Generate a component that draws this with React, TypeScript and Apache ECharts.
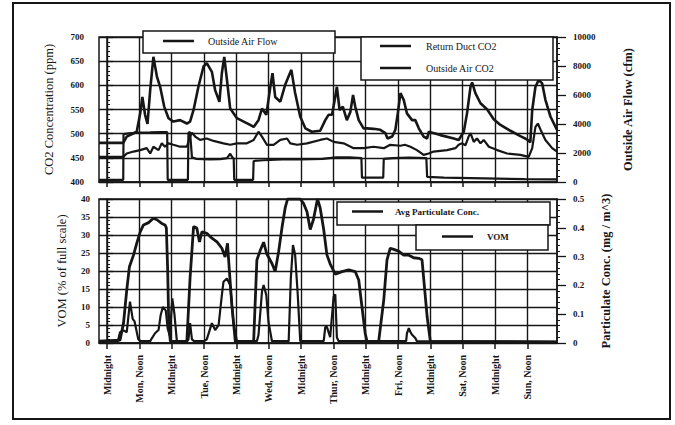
import React, { useEffect, useRef } from "react";
import * as echarts from "echarts";

// ---- axis ticks (hours from Monday midnight) ----
const hourTicks = [0, 12, 24, 36, 48, 60, 72, 84, 96, 108, 120, 132, 144, 156];
const tickLabels = [
  "Midnight", "Mon, Noon", "Midnight", "Tue, Noon", "Midnight", "Wed, Noon", "Midnight",
  "Thur, Noon", "Midnight", "Fri, Noon", "Midnight", "Sat, Noon", "Midnight", "Sun, Noon",
];

// ---- Return Duct CO2 (ppm) ----
const rdHours = [-3, 6, 7.3, 11, 12.3, 13.1, 14.1, 15, 16, 17.2, 18.5, 19.7, 21.2, 22.8, 24.6, 27.1, 29.6, 30.8, 32.1, 33.9, 35.8, 37, 38.9, 40.1, 41.7, 42.6, 43.5, 44.5, 45.7, 48.2, 50.7, 53.1, 54.4, 56.2, 57.5, 59.1, 60.6, 61.4, 62.4, 64.3, 66.1, 68.4, 69.8, 71.7, 73.6, 76, 79.1, 81, 82.2, 83.5, 84.5, 85.3, 86.3, 87.5, 89, 90.3, 91.3, 92.1, 93.4, 95.2, 96.5, 98.9, 101.4, 103.3, 104.1, 105.8, 107, 107.9, 108.9, 110.1, 111.3, 113.2, 114.4, 115.7, 117.5, 118.8, 119.4, 123.7, 128.7, 130.5, 132.4, 133.6, 134.9, 135.5, 136.7, 138.6, 141.1, 143.5, 146, 149.7, 153.4, 155.9, 157.1, 157.8, 159, 160.2, 161.5, 162.7, 164.6, 167];
const rdCO2 = [481, 481, 494, 504, 542, 576, 539, 520, 590, 659, 618, 597, 556, 532, 525, 528, 521, 525, 549, 597, 639, 646, 628, 590, 566, 625, 659, 611, 552, 532, 525, 518, 514, 528, 552, 539, 597, 625, 576, 566, 601, 632, 584, 535, 511, 504, 506, 528, 539, 539, 570, 597, 549, 556, 528, 545, 580, 556, 528, 511, 511, 510, 508, 501, 490, 494, 508, 542, 584, 570, 542, 528, 528, 511, 494, 490, 504, 497, 490, 487, 504, 542, 597, 606, 584, 563, 550, 530, 518, 506, 495, 488, 482, 549, 597, 611, 604, 570, 535, 508];

// ---- Outside Air CO2 (ppm) ----
const oaHours = [-3, 6, 7.3, 9.8, 12.3, 14.7, 16, 17.2, 19.1, 20.3, 21.5, 22.8, 24.6, 27.1, 29.6, 30.8, 31.5, 32.7, 34.5, 37, 39.5, 43.2, 45.7, 48.2, 51.9, 54.4, 56.2, 57.5, 59.3, 61.8, 64.3, 66.8, 68, 70.5, 74.2, 79.1, 81.6, 84.1, 87.8, 91.5, 95.2, 98.9, 102.7, 105.1, 108.9, 110.5, 112.6, 115, 117.5, 119.4, 121.2, 126.2, 129.3, 130.5, 131.8, 133, 134.2, 134.9, 136.1, 137.3, 138.6, 139.8, 141.7, 144.8, 148.5, 153.4, 156.5, 157.8, 159, 159.9, 160.9, 162.7, 165.2, 167];
const oaCO2 = [452, 452, 459, 463, 466, 470, 459, 473, 466, 480, 473, 480, 477, 473, 473, 494, 502, 494, 487, 490, 485, 480, 477, 480, 480, 487, 504, 494, 477, 477, 487, 490, 480, 477, 480, 487, 490, 483, 480, 470, 470, 473, 470, 477, 475, 477, 473, 466, 456, 459, 463, 466, 470, 477, 480, 476, 494, 501, 483, 490, 480, 487, 473, 466, 459, 456, 452, 470, 514, 521, 508, 487, 470, 463];

// ---- Outside Air Flow (cfm) ----
const flowHours = [-3, 6, 6.1, 8, 12, 16, 20, 22.3, 22.5, 30, 30.2, 30.8, 31.5, 33, 38, 42, 44.5, 45.7, 46.5, 47, 47.2, 54.2, 54.4, 58, 65, 72, 80, 85, 90, 94.4, 94.6, 102.5, 102.7, 106, 112, 118.5, 118.8, 125, 140, 155, 167];
const flowCfm = [150, 150, 3300, 3350, 3400, 3420, 3450, 3450, 150, 150, 3400, 3450, 1700, 1600, 1550, 1580, 1650, 1950, 1700, 1600, 150, 150, 1450, 1500, 1550, 1560, 1600, 1700, 1700, 1650, 300, 300, 1600, 1650, 1680, 1650, 350, 300, 250, 200, 180];

// ---- Avg Particulate Conc. (mg/m^3) ----
const pmHours = [-3, 4.8, 6.1, 7.3, 8.3, 9.8, 11, 12.3, 13.5, 15.4, 17.2, 18.5, 20.3, 21.5, 22, 22.5, 22.9, 23.5, 29.6, 30.8, 32.1, 33.3, 34.3, 35.2, 37, 38.9, 40.8, 42.6, 43.8, 44.7, 45.4, 46.3, 47.6, 54.4, 55.6, 56.8, 58.1, 59.3, 61.2, 62.4, 63.7, 64.9, 66.1, 67, 71.7, 72.9, 74.2, 75.4, 76.6, 78.1, 79.1, 80.4, 81.6, 82.8, 84.7, 87.2, 89.7, 92.1, 93.4, 94.6, 95.8, 96.5, 100.8, 102.7, 103.9, 105.1, 106.4, 108.2, 110.1, 112, 113.8, 115.7, 116.9, 117.8, 118.8, 120, 167];
const pmConc = [0.006, 0.01, 0.069, 0.184, 0.265, 0.305, 0.346, 0.386, 0.41, 0.418, 0.433, 0.428, 0.415, 0.41, 0.4, 0.25, 0.06, 0.006, 0.005, 0.225, 0.404, 0.399, 0.351, 0.386, 0.381, 0.364, 0.351, 0.329, 0.299, 0.346, 0.25, 0.133, 0.005, 0.005, 0.288, 0.32, 0.35, 0.309, 0.276, 0.248, 0.319, 0.399, 0.469, 0.5, 0.5, 0.485, 0.456, 0.394, 0.429, 0.5, 0.469, 0.394, 0.306, 0.275, 0.239, 0.248, 0.254, 0.248, 0.219, 0.126, 0.034, 0.005, 0.005, 0.15, 0.289, 0.329, 0.325, 0.319, 0.305, 0.305, 0.296, 0.294, 0.289, 0.195, 0.091, 0.005, 0.004];

// ---- VOM (% of full scale) ----
const vomHours = [-3, 4, 4.8, 6.1, 7.3, 8.5, 9.5, 10.2, 11.6, 12.5, 16, 16.6, 17.8, 19.1, 19.9, 20.7, 21.8, 22.5, 23.3, 24.2, 25, 25.9, 29.6, 30.2, 30.8, 31.5, 32.3, 36, 37, 38.9, 40.1, 41.4, 42.6, 43.2, 44.5, 45.7, 46.9, 48.2, 55.6, 56.2, 57.5, 58.1, 59.1, 59.9, 61.2, 67.4, 68.2, 69, 69.8, 70.7, 71.7, 80.4, 81, 81.6, 82.8, 84.1, 84.7, 85.3, 85.9, 111, 111.3, 112, 112.6, 113.2, 114.4, 115, 167];
const vomPct = [0.5, 0.5, 3, 3.5, 3, 11.5, 6.7, 6, 1, 0.5, 0.5, 1.3, 2.7, 3.6, 7.8, 10, 9, 4, 2, 12.4, 8, 0.5, 0.5, 1, 5.5, 1, 0.5, 0.5, 1, 5.5, 3.6, 5, 13.3, 17, 17.9, 16, 5.6, 0.5, 0.5, 2.2, 14.3, 16.1, 13.3, 5.9, 0.5, 0.5, 18, 27.2, 24.5, 14.3, 0.5, 0.5, 4.5, 4.5, 1.6, 12.9, 13.5, 1.6, 0.5, 0.5, 2.7, 4.1, 3, 2.3, 1.4, 0.5, 0.3];

const zip = (xs: number[], ys: number[]) => xs.map((x, i) => [x, ys[i]]);

const FONT = "Liberation Serif, Times New Roman, serif";
const INK = "#161616";

export default function App() {
  const ref = useRef<HTMLDivElement>(null);

  useEffect(() => {
    if (!ref.current) return;
    const chart = echarts.init(ref.current, undefined, { renderer: "svg" });

    const xBase = {
      type: "value" as const,
      min: -3,
      max: 167,
      axisLine: { show: true, lineStyle: { color: INK, width: 1.5 } },
      axisTick: { show: true, customValues: hourTicks, length: 5, lineStyle: { color: INK, width: 1.5 } },
      splitLine: { show: true, lineStyle: { color: INK, width: 1.4 } },
    };

    const yLeft = (gridIndex: number, min: number, max: number, interval: number, name: string, gap: number, margin: number) => ({
      type: "value" as const,
      gridIndex,
      position: "left" as const,
      min,
      max,
      interval,
      name,
      nameLocation: "middle" as const,
      nameGap: gap,
      nameTextStyle: { fontFamily: FONT, fontSize: 12.5, color: INK },
      axisLine: { show: true, lineStyle: { color: INK, width: 1.5 } },
      axisTick: { show: true, inside: true, length: 6, lineStyle: { color: INK, width: 1.3 } },
      minorTick: { show: true, splitNumber: 5, length: 3, lineStyle: { color: INK, width: 1 } },
      axisLabel: { fontFamily: FONT, fontSize: 9, fontWeight: "bold", color: INK, margin },
      splitLine: { show: true, lineStyle: { color: INK, width: 1.4 } },
    });

    const yRight = (gridIndex: number, min: number, max: number, interval: number, name: string, gap: number, fmt: (v: number) => string) => ({
      type: "value" as const,
      gridIndex,
      position: "right" as const,
      min,
      max,
      interval,
      name,
      nameLocation: "middle" as const,
      nameGap: gap,
      nameTextStyle: { fontFamily: FONT, fontSize: 12.5, fontWeight: "bold", color: INK },
      axisLine: { show: true, lineStyle: { color: INK, width: 1.5 } },
      axisTick: { show: true, length: 9, lineStyle: { color: INK, width: 1.3 } },
      minorTick: { show: true, splitNumber: 5, length: 3, lineStyle: { color: INK, width: 1 } },
      axisLabel: { fontFamily: FONT, fontSize: 9, fontWeight: "bold", color: INK, margin: 16, formatter: fmt },
      splitLine: { show: false },
    });

    const line = (name: string, xi: number, yi: number, data: number[][], width: number) => ({
      name,
      type: "line" as const,
      xAxisIndex: xi,
      yAxisIndex: yi,
      data,
      symbol: "none",
      lineStyle: { color: INK, width },
      itemStyle: { color: INK },
      z: 2,
    });

    const legendBase = {
      padding: 0,
      icon: "rect",
      itemWidth: 31,
      itemHeight: 2.5,
      selectedMode: false,
      z: 6,
      textStyle: { fontFamily: FONT, fontSize: 10, color: INK },
    };

    const boxStyle = { fill: "#ffffff", stroke: INK, lineWidth: 1.5 };

    chart.setOption({
      animation: false,
      backgroundColor: "#ffffff",
      grid: [
        { left: 99, top: 37, width: 458, height: 145, show: true, borderColor: INK, borderWidth: 1.5, backgroundColor: "transparent" },
        { left: 99, top: 199, width: 458, height: 144, show: true, borderColor: INK, borderWidth: 1.5, backgroundColor: "transparent" },
      ],
      xAxis: [
        { ...xBase, gridIndex: 0, axisLabel: { show: false, customValues: hourTicks } },
        {
          ...xBase,
          gridIndex: 1,
          axisTick: { ...xBase.axisTick, length: 6 },
          axisLabel: {
            show: true,
            customValues: hourTicks,
            rotate: 90,
            margin: 12,
            fontFamily: FONT,
            fontSize: 10,
            fontWeight: "bold",
            color: INK,
            formatter: (v: number) => tickLabels[Math.round(v / 12)] ?? "",
          },
        },
      ],
      yAxis: [
        yLeft(0, 400, 700, 50, "CO2 Concentration (ppm)", 44, 15),
        yRight(0, 0, 10000, 2000, "Outside Air Flow (cfm)", 64, (v: number) => String(v)),
        yLeft(1, 0, 40, 5, "VOM (% of full scale)", 31, 9),
        yRight(1, 0, 0.5, 0.1, "Particulate Conc. (mg / m^3)", 42, (v: number) => (v === 0 ? "0" : v.toFixed(1))),
      ],
      legend: [
        { ...legendBase, data: ["Outside Air Flow"], left: 163, top: 36, textStyle: { ...legendBase.textStyle, padding: [0, 0, 0, 9] } },
        { ...legendBase, data: ["Return Duct CO2"], left: 380, top: 41, textStyle: { ...legendBase.textStyle, padding: [0, 0, 0, 10] } },
        { ...legendBase, data: ["Outside Air CO2"], left: 380, top: 63, textStyle: { ...legendBase.textStyle, padding: [0, 0, 0, 10] } },
        { ...legendBase, data: ["Avg Particulate Conc."], left: 352, top: 207, textStyle: { ...legendBase.textStyle, fontSize: 9, fontWeight: "bold", padding: [0, 0, 0, 7] } },
        { ...legendBase, data: ["VOM"], left: 442, top: 232, textStyle: { ...legendBase.textStyle, fontSize: 9, fontWeight: "bold", padding: [0, 0, 0, 9] } },
      ],
      graphic: [
        { type: "rect", shape: { x: 13, y: 3, width: 657, height: 416 }, style: { fill: "none", stroke: INK, lineWidth: 2 }, z: 1, silent: true },
        { type: "rect", shape: { x: 143, y: 31, width: 192, height: 22 }, style: boxStyle, z: 3, silent: true },
        { type: "rect", shape: { x: 361, y: 37, width: 192, height: 43 }, style: boxStyle, z: 3, silent: true },
        { type: "rect", shape: { x: 337, y: 202, width: 213, height: 23 }, style: boxStyle, z: 3, silent: true },
        { type: "rect", shape: { x: 416, y: 225, width: 132, height: 25 }, style: boxStyle, z: 3, silent: true },
      ],
      series: [
        line("Return Duct CO2", 0, 0, zip(rdHours, rdCO2), 2.6),
        line("Outside Air CO2", 0, 0, zip(oaHours, oaCO2), 2.2),
        line("Outside Air Flow", 0, 1, zip(flowHours, flowCfm), 2.2),
        line("Avg Particulate Conc.", 1, 3, zip(pmHours, pmConc), 2.8),
        line("VOM", 1, 2, zip(vomHours, vomPct), 2.2),
      ],
    });

    return () => chart.dispose();
  }, []);

  return (
    <div
      ref={ref}
      style={{ position: "fixed", left: 0, top: 0, width: 675, height: 425, background: "#fff" }}
    />
  );
}
